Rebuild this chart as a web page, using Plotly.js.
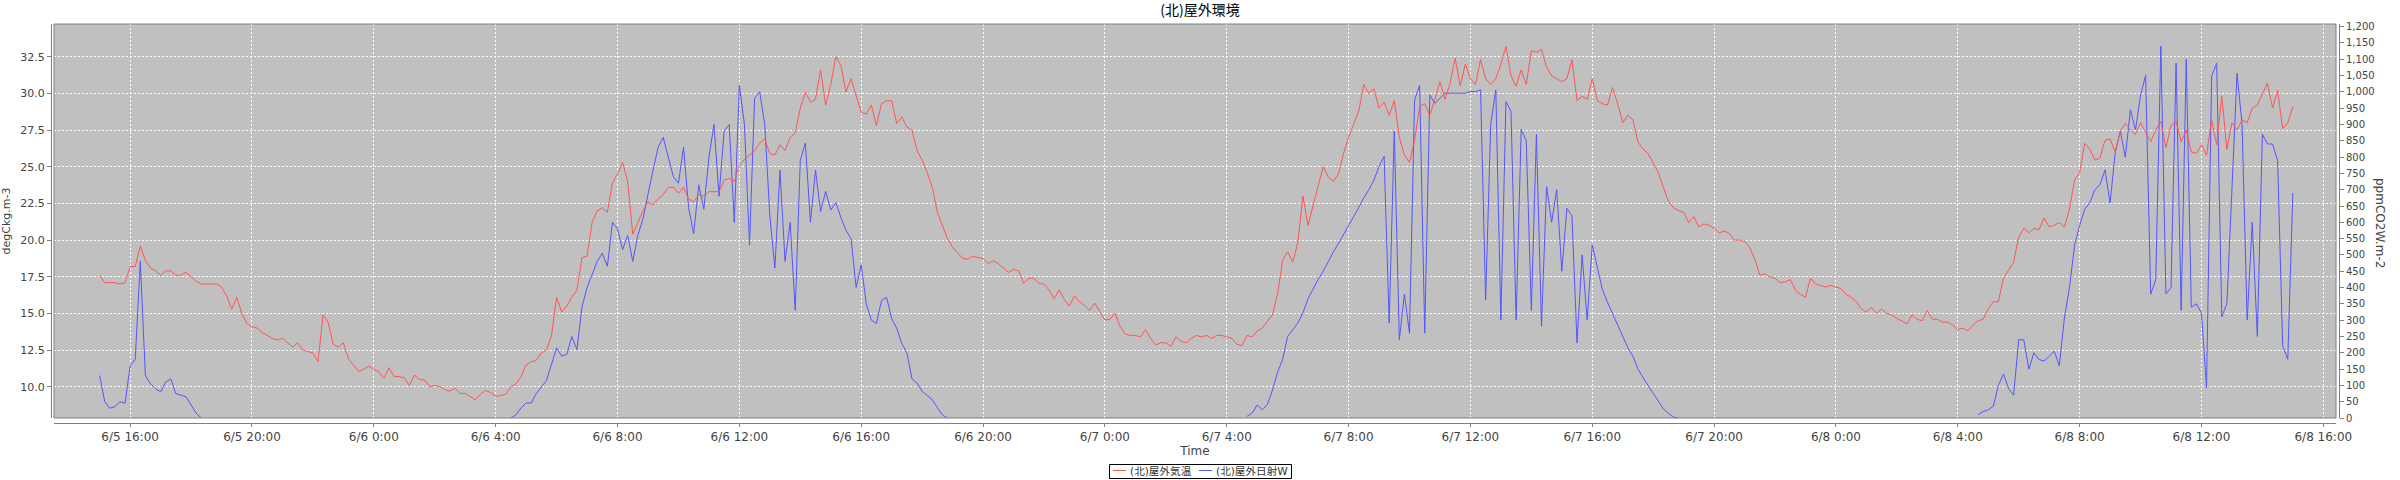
<!DOCTYPE html>
<html><head><meta charset="utf-8">
<script src="https://cdn.plot.ly/plotly-3.0.1.min.js"></script>
<style>html,body{margin:0;padding:0;background:#fff}#chart{width:2400px;height:480px}</style>
</head><body><div id="chart"></div>
<script>
// ---- text ----
const TITLE = '(北)屋外環境';
const SERIES_TEMP = '(北)屋外気温';
const SERIES_SOLAR = '(北)屋外日射W';
const X_TITLE = 'Time';
const Y_LEFT_TITLE = 'degCkg.m-3';
const Y_RIGHT_TITLE = 'ppmCO2W.m-2';
const STEP_MIN = 10; // sampling interval of the series (minutes)

// ---- outside temperature (degC), 10-minute samples ----
const temp0605Start = '2024-06-05 15:00';
const temp0605 = [
  17.6,17.1,17.1,17.1,17.0,17.1,
  18.2,18.2,19.6,18.6,18.1,17.9,
  17.6,17.9,17.9,17.6,17.6,17.8,
  17.5,17.2,17.0,17.0,17.0,17.0,
  16.8,16.2,15.3,16.1,15.0,14.3,
  14.1,14.0,13.7,13.5,13.3,13.2,
  13.3,13.0,12.7,13.0,12.5,12.4,
  12.3,11.7,14.9,14.4,12.9,12.7,
  13.0,11.9,11.45,11.05,11.2,11.4
];
const temp0606Start = '2024-06-06 00:00';
const temp0606 = [
  11.2,11.0,10.6,11.3,10.7,10.7,
  10.6,10.1,10.8,10.5,10.45,10.0,
  10.1,10.0,9.8,9.7,9.9,9.55,
  9.55,9.3,9.1,9.5,9.75,9.6,
  9.35,9.4,9.5,10.0,10.2,10.7,
  11.5,11.7,11.8,12.3,12.5,13.5,
  16.1,15.1,15.5,16.1,16.6,18.8,
  18.9,21.2,22.0,22.2,21.9,23.9,
  24.5,25.3,24.0,20.4,21.2,22.0,
  22.6,22.4,22.8,23.1,23.6,23.6,
  23.2,23.6,22.8,22.6,23.1,23.0,
  23.3,23.3,23.3,24.1,24.2,24.0,
  25.1,25.5,25.8,26.1,26.6,26.9,
  25.9,25.8,26.5,26.1,27.0,27.3,
  29.0,30.1,29.4,29.6,31.6,29.2,
  30.6,32.5,31.9,30.1,31.0,29.8,
  28.7,28.6,29.2,27.8,29.3,29.5,
  29.5,27.95,28.4,27.7,27.5,26.1,
  25.45,24.6,23.6,21.9,21.0,20.1,
  19.5,19.1,18.75,18.7,18.9,18.8,
  18.75,18.4,18.6,18.4,18.1,17.8,
  18.0,17.9,17.05,17.4,17.4,17.05,
  17.0,16.6,16.0,16.6,15.95,15.5,
  16.2,15.8,15.55,15.2,15.7,15.1
];
const temp0607Start = '2024-06-07 00:00';
const temp0607 = [
  14.55,14.6,15.0,14.1,13.6,13.5,
  13.5,13.4,13.9,13.3,12.85,13.0,
  13.0,12.75,13.4,13.1,13.0,13.3,
  13.5,13.4,13.5,13.3,13.5,13.5,
  13.4,13.3,12.9,12.8,13.5,13.4,
  13.8,14.0,14.45,14.9,16.3,18.6,
  19.2,18.5,19.8,23.0,21.0,22.3,
  23.6,25.0,24.3,24.0,24.5,25.9,
  27.0,27.95,28.8,30.6,30.0,30.3,
  29.0,29.4,28.5,29.5,27.0,25.8,
  25.3,26.8,29.1,29.3,28.5,29.6,
  30.8,29.6,30.7,32.4,30.5,32.0,
  31.0,30.6,32.3,31.0,30.6,31.0,
  32.0,33.2,31.2,30.5,31.6,30.6,
  32.9,32.8,33.0,31.8,31.2,31.0,
  30.8,31.0,32.3,29.5,29.8,29.6,
  31.0,29.5,29.3,29.2,30.4,29.3,
  28.0,28.5,28.2,26.7,26.2,25.9,
  25.2,24.6,23.6,22.65,22.2,22.0,
  21.9,21.2,21.6,20.9,21.1,21.0,
  20.8,20.5,20.6,20.45,20.0,20.0,
  19.9,19.5,18.7,17.6,17.7,17.5,
  17.4,17.1,17.15,17.3,16.6,16.3,
  16.1,17.4,17.0,16.9,16.8,16.9
];
const temp0608Start = '2024-06-08 00:00';
const temp0608 = [
  16.8,16.7,16.3,16.1,15.8,15.3,
  15.1,15.4,15.0,15.3,15.0,14.9,
  14.66,14.5,14.3,14.9,14.6,14.5,
  15.2,14.6,14.6,14.4,14.4,14.2,
  13.9,14.0,13.8,14.2,14.5,14.6,
  15.3,15.8,15.8,17.4,18.0,18.5,
  20.2,20.8,20.5,20.8,20.7,21.5,
  20.9,21.0,21.2,20.9,22.1,24.1,
  24.6,26.6,26.2,25.45,25.6,26.8,
  26.9,26.0,27.4,27.95,27.5,27.2,
  28.0,27.3,26.7,27.5,28.1,26.3,
  27.8,28.1,26.7,27.5,26.0,25.9,
  26.5,25.8,28.2,26.5,29.8,26.2,
  28.0,27.5,28.2,28.0,29.0,29.2,
  29.9,30.7,29.0,30.2,27.6,28.0,
  29.1
];

// ---- outside solar radiation (W/m2), 10-minute samples, daytime segments ----
const solar0605Start = '2024-06-05 15:00';
const solar0605 = [
  130,50,30,35,50,45,
  160,180,480,130,105,90,
  80,110,120,75,70,65,
  40,15,0
];
const solar0606Start = '2024-06-06 04:30';
const solar0606 = [
  0,10,31,
  46,46,75,95,115,165,
  215,190,195,250,210,340,
  400,440,480,505,465,600,
  580,516,560,480,560,610,
  690,760,830,860,800,740,
  720,830,645,565,715,640,
  800,900,680,880,900,600,
  1020,900,530,980,1000,900,
  620,460,760,480,600,330,
  790,843,600,760,633,695,
  638,660,615,575,550,400,
  470,350,300,290,360,370,
  305,275,228,200,120,107,
  82,68,56,32,9,0
];
const solar0607Start = '2024-06-07 04:40';
const solar0607 = [
  5,15,
  40,25,41,85,140,179,
  250,270,291,322,365,395,
  425,450,482,509,535,562,
  590,620,645,675,700,730,
  771,802,291,880,240,380,
  260,975,1020,260,990,965,
  980,996,996,996,996,996,
  1001,1001,1006,363,900,1006,
  301,970,940,300,885,850,
  330,870,281,710,600,700,
  450,643,620,230,500,300,
  531,460,393,355,320,289,
  252,216,190,150,124,100,
  74,53,28,15,3,0
];
const solar0608Start = '2024-06-08 04:40';
const solar0608 = [
  10,20,
  25,36,100,135,90,70,
  240,240,150,200,179,175,
  189,205,160,306,400,530,
  590,640,660,700,715,761,
  659,812,880,800,945,883,
  990,1050,380,424,1140,380,
  400,1088,330,1100,340,350,
  322,92,1047,1088,310,350,
  700,1057,900,300,600,250,
  870,840,840,790,220,180,
  690
];

// ---- axes ----
const xRange = ['2024-06-05 13:30', '2024-06-08 16:25'];
const tempRange = [7.87, 34.73];
const solarRange = [0, 1208];

// ---- helpers ----
function pad(n){ return (n < 10 ? '0' : '') + n; }
function times(start, n){
  const [d, t] = start.split(' ');
  const [Y, M, D] = d.split('-').map(Number);
  const [h, m] = t.split(':').map(Number);
  const base = Date.UTC(Y, M - 1, D, h, m);
  const out = [];
  for (let i = 0; i < n; i++) {
    const dt = new Date(base + i * STEP_MIN * 60000);
    out.push(dt.getUTCFullYear() + '-' + pad(dt.getUTCMonth() + 1) + '-' + pad(dt.getUTCDate()) +
      ' ' + pad(dt.getUTCHours()) + ':' + pad(dt.getUTCMinutes()));
  }
  return out;
}
function join(segments, breakGaps){
  const xs = [], ys = [];
  segments.forEach(([start, vals]) => {
    const t = times(start, vals.length + 1);
    for (let i = 0; i < vals.length; i++) { xs.push(t[i]); ys.push(vals[i]); }
    if (breakGaps) { xs.push(t[vals.length]); ys.push(null); }
  });
  return {xs, ys};
}

const temp = join([[temp0605Start, temp0605], [temp0606Start, temp0606], [temp0607Start, temp0607], [temp0608Start, temp0608]], false);
const solar = join([[solar0605Start, solar0605], [solar0606Start, solar0606], [solar0607Start, solar0607], [solar0608Start, solar0608]], true);

const FONT = "'DejaVu Sans','Noto Sans CJK JP',sans-serif";
const CJK = "'Noto Sans CJK JP','DejaVu Sans',sans-serif";
const AXIS_GRAY = '#808080';
const LABEL = '#444444';
const RED = '#ff5555', BLUE = '#5555ff';

// plot geometry (paper area = axis lines, plot area inset)
const M = {l: 51, r: 61, t: 24, b: 57};
const PW = 2400 - M.l - M.r, PH = 480 - M.t - M.b;
const px = v => (v - M.l) / PW;          // page x -> paper x
const py = v => (M.t + PH - v) / PH;     // page y -> paper y

const traces = [
  {x: solar.xs, y: solar.ys, type: 'scatter', mode: 'lines', name: SERIES_SOLAR,
   line: {color: BLUE, width: 1}, xaxis: 'x', yaxis: 'y', connectgaps: false,
   showlegend: false, hoverinfo: 'skip'},
  {x: temp.xs, y: temp.ys, type: 'scatter', mode: 'lines', name: SERIES_TEMP,
   line: {color: RED, width: 1}, xaxis: 'x', yaxis: 'y2',
   showlegend: false, hoverinfo: 'skip'}
];

// legend box drawn below the plot (JFreeChart style)
const LEG = {x0: 1109.5, x1: 1291.5, y0: 464.5, y1: 478.5, ymid: 471};
const legendItems = [
  {name: SERIES_TEMP, color: RED, lx0: 1113, lx1: 1126, tx: 1129},
  {name: SERIES_SOLAR, color: BLUE, lx0: 1199, lx1: 1212, tx: 1215}
];

const shapes = [
  {type: 'rect', xref: 'x domain', yref: 'y domain', x0: 0, x1: 1, y0: 0, y1: 1,
   line: {color: AXIS_GRAY, width: 1}, fillcolor: 'rgba(0,0,0,0)', layer: 'above'},
  {type: 'rect', xref: 'paper', yref: 'paper', x0: px(LEG.x0), x1: px(LEG.x1), y0: py(LEG.y1), y1: py(LEG.y0),
   line: {color: '#000000', width: 1}, fillcolor: '#ffffff'}
];
const annotations = [
  {text: Y_RIGHT_TITLE, xref: 'paper', yref: 'paper', x: px(2380), y: py(223),
   xanchor: 'center', yanchor: 'middle', textangle: 90, showarrow: false,
   font: {family: FONT, size: 12, color: LABEL}}
];
legendItems.forEach(it => {
  shapes.push({type: 'line', xref: 'paper', yref: 'paper', x0: px(it.lx0), x1: px(it.lx1),
               y0: py(LEG.ymid - 0.5), y1: py(LEG.ymid - 0.5), line: {color: it.color, width: 1}});
  annotations.push({text: it.name, xref: 'paper', yref: 'paper', x: px(it.tx), y: py(LEG.ymid),
                    xanchor: 'left', yanchor: 'middle', showarrow: false, borderpad: 0,
                    font: {family: FONT, size: 10.6, color: '#333333'}});
});

const layout = {
  width: 2400, height: 480,
  margin: {l: M.l, r: M.r, t: M.t, b: M.b, pad: 0, autoexpand: false},
  paper_bgcolor: '#ffffff', plot_bgcolor: '#c0c0c0',
  font: {family: FONT, size: 12, color: LABEL},
  title: {text: TITLE, x: 0.5, xref: 'container', xanchor: 'center',
          y: 1 - 10 / 480, yref: 'container', yanchor: 'middle',
          font: {family: CJK, size: 14, color: '#000000'}},
  showlegend: false,
  xaxis: {type: 'date', domain: [3 / PW, 1 - 3 / PW], anchor: 'free', position: 0,
          range: xRange, tick0: '2024-06-05 00:00', dtick: 4 * 3600 * 1000,
          tickformat: '%-m/%-d %-H:%M', ticks: 'outside', ticklen: 3, tickcolor: AXIS_GRAY,
          showline: true, linecolor: AXIS_GRAY, linewidth: 1,
          showgrid: true, gridcolor: '#ffffff', griddash: '2px,2px', gridwidth: 1,
          zeroline: false, tickfont: {family: FONT, size: 12, color: LABEL},
          title: {text: X_TITLE, font: {family: FONT, size: 12, color: LABEL}, standoff: 0},
          automargin: false, fixedrange: true},
  yaxis: {domain: [5 / PH, 1], anchor: 'free', position: 1, side: 'right',
          range: solarRange, tick0: 0, dtick: 50, tickformat: ',d',
          ticks: 'outside', ticklen: 4, tickcolor: AXIS_GRAY,
          showline: true, linecolor: AXIS_GRAY, linewidth: 1,
          showgrid: false, zeroline: false,
          tickfont: {family: FONT, size: 10, color: LABEL},
          automargin: false, fixedrange: true},
  yaxis2: {overlaying: 'y', anchor: 'free', position: 0, side: 'left',
           range: tempRange, tick0: 0, dtick: 2.5, tickformat: '.1f',
           ticks: 'outside', ticklen: 4, tickcolor: AXIS_GRAY,
           showline: true, linecolor: AXIS_GRAY, linewidth: 1,
           showgrid: true, gridcolor: '#ffffff', griddash: '2px,2px', gridwidth: 1,
           zeroline: false, tickfont: {family: FONT, size: 11, color: LABEL},
           title: {text: Y_LEFT_TITLE, font: {family: FONT, size: 11, color: LABEL}, standoff: 6},
           automargin: false, fixedrange: true},
  shapes: shapes,
  annotations: annotations
};

Plotly.newPlot('chart', traces, layout, {staticPlot: true, displayModeBar: false});
</script>
</body></html>
